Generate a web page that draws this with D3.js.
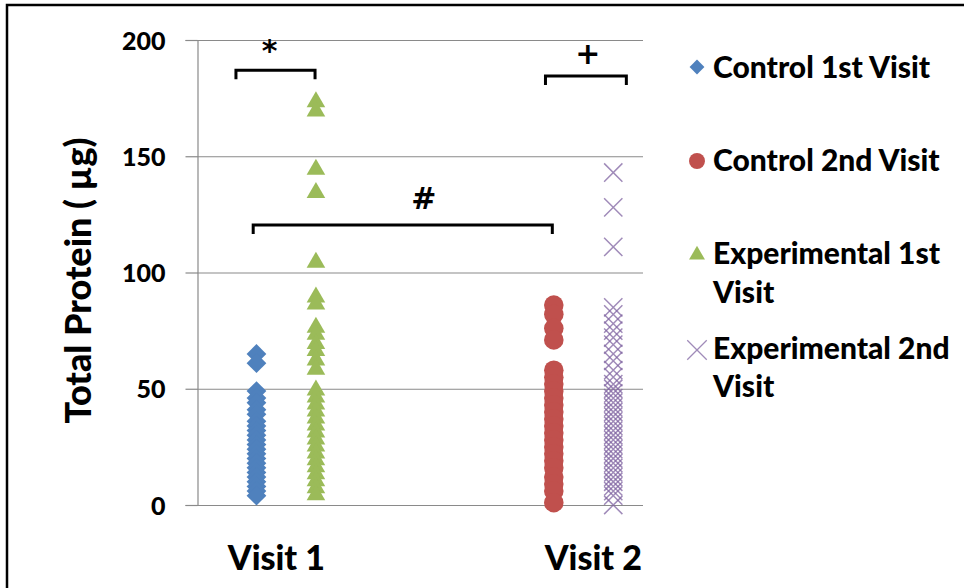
<!DOCTYPE html>
<html>
<head>
<meta charset="utf-8">
<script src="https://cdn.jsdelivr.net/npm/d3@7"></script>
<style>
  html, body { margin: 0; padding: 0; background: #fff; }
  svg { display: block; }
  text { font-family: Lato, "Open Sans", sans-serif; font-weight: 700; fill: #000; }
</style>
</head>
<body>
<svg id="chart" width="964" height="588"></svg>
<script>
// Series names, colours and x positions (visit 1 = 1, visit 2 = 2, experimental offset by 0.2)
const seriesNames = ["Control 1st Visit", "Control 2nd Visit", "Experimental 1st Visit", "Experimental 2nd Visit"];
const seriesLegendLines = [["Control 1st Visit"], ["Control 2nd Visit"], ["Experimental 1st", "Visit"], ["Experimental 2nd", "Visit"]];
const seriesX = [1, 2, 1.2, 2.2];
const seriesColors = ["#4F81BD", "#C0504D", "#9BBB59", "#8064A2"];

// Total protein (µg) per subject
const control1st = [65, 61, 49, 46, 44, 41, 39, 36, 34, 32, 30, 28, 26, 24, 22, 20, 18, 16, 14, 12, 10, 8, 6, 4];
const control2nd = [86, 82, 76, 71, 58, 55, 52, 49, 46, 43, 40, 37, 34, 31, 28, 25, 22, 19, 16, 12, 9, 6, 1];
const experimental1st = [174, 170, 145, 135, 105, 90, 87, 77, 74, 70, 67, 63, 59, 50, 47, 44, 41, 38, 35, 32, 29, 26, 23, 20, 17, 14, 11, 8, 5];
const experimental2nd = [143, 128, 111, 85, 82, 78, 75, 72, 69, 65, 62, 58, 55, 52, 50, 48, 46, 44, 42, 40, 38, 36, 34, 32, 30, 28, 26, 24, 22, 20, 18, 16, 14, 12, 10, 8, 6, 4, 0];
const seriesValues = [control1st, control2nd, experimental1st, experimental2nd];

// Axis ticks and category labels
const yTicks = [0, 50, 100, 150, 200];
const visitLabels = ["Visit 1", "Visit 2"];
const visitLabelX = [1.067, 2.133];

// Significance brackets: symbol, x range, bracket height (µg)
const sigSymbols = ["*", "+", "#"];
const sigX0 = [0.931, 1.972, 0.989];
const sigX1 = [1.197, 2.244, 1.995];
const sigY = [187, 184.5, 120.4];
const sigLabelShift = [-6, 2, 21];
const sigLabelRaise = [9, 12, 16];

const svg = d3.select("#chart");

// Outer frame
svg.append("path")
  .attr("d", "M7,590 V5 H966")
  .attr("fill", "none").attr("stroke", "#000").attr("stroke-width", 2.5);

const x = d3.scaleLinear().domain([0.8, 2.3]).range([197, 643]);
const y = d3.scaleLinear().domain([0, 200]).range([505, 40]);

// Gridlines
svg.append("g").selectAll("line").data(yTicks).join("line")
  .attr("x1", x(0.8)).attr("x2", x(2.3))
  .attr("y1", d => y(d) + 0.5).attr("y2", d => y(d) + 0.5)
  .attr("stroke", "#8a8a8a").attr("stroke-width", 1.2);

// Y axis
const yAxis = d3.axisLeft(y).tickValues(yTicks).tickSize(12).tickPadding(20).tickFormat(d3.format("d"));
const yg = svg.append("g").attr("transform", `translate(${x(0.8) + 0.5},0)`).call(yAxis);
yg.select(".domain").attr("stroke", "#8a8a8a").attr("stroke-width", 1.2);
yg.selectAll(".tick line").attr("stroke", "#8a8a8a").attr("stroke-width", 1.2);
yg.selectAll(".tick text")
  .style("font-family", "Lato, sans-serif").style("font-weight", "900")
  .attr("font-size", 25).attr("fill", "#000").attr("dy", "0.36em");

// Y axis title
svg.append("text")
  .attr("transform", `translate(91,${(y(0) + y(200)) / 2 + 8}) rotate(-90)`)
  .attr("text-anchor", "middle").attr("font-size", 36).style("font-weight", "900")
  .text("Total Protein ( µg)");

// Category labels
svg.append("g").selectAll("text").data(visitLabels).join("text")
  .attr("x", (d, i) => x(visitLabelX[i])).attr("y", 570)
  .attr("text-anchor", "middle").attr("font-size", 34).style("font-weight", "900")
  .text(d => d);

// Markers
const diamond = d3.symbol(d3.symbolSquare, 195);
const circle = d3.symbol(d3.symbolCircle, 300);
const triangle = d3.symbol(d3.symbolTriangle, 150);
const timesType = d3.symbolTimes || {
  draw(context, size) {
    const r = Math.sqrt(size + Math.min(size / 6, 1.7)) * 0.6189;
    context.moveTo(-r, -r); context.lineTo(r, r);
    context.moveTo(-r, r); context.lineTo(r, -r);
  }
};
const times = d3.symbol(timesType, 220);

function drawMarker(sel, i) {
  if (i === 0) {
    sel.append("path").attr("d", diamond()).attr("fill", seriesColors[0]).attr("transform", "rotate(45)");
  } else if (i === 1) {
    sel.append("path").attr("d", circle()).attr("fill", seriesColors[1]);
  } else if (i === 2) {
    sel.append("path").attr("d", triangle()).attr("fill", seriesColors[2]).attr("transform", "translate(0,1.5)");
  } else {
    sel.append("path").attr("d", times()).attr("fill", "none").attr("stroke", seriesColors[3]).attr("stroke-width", 1.5).attr("stroke-opacity", 0.75);
  }
}

seriesValues.forEach((vals, i) => {
  const g = svg.append("g").attr("class", "series");
  vals.forEach(v => {
    const m = g.append("g").attr("transform", `translate(${x(seriesX[i])},${y(v)})`);
    drawMarker(m, i);
  });
});

// Significance brackets
const brackets = svg.append("g");
sigSymbols.forEach((s, i) => {
  const x0 = x(sigX0[i]), x1 = x(sigX1[i]), yy = y(sigY[i]);
  brackets.append("path")
    .attr("d", `M${x0},${yy + 9} V${yy} H${x1} V${yy + 9}`)
    .attr("fill", "none").attr("stroke", "#000").attr("stroke-width", 3);
  brackets.append("text")
    .attr("x", (x0 + x1) / 2 + sigLabelShift[i])
    .attr("y", yy - sigLabelRaise[i])
    .attr("text-anchor", "middle").attr("font-size", 30)
    .style("font-family", "'DejaVu Sans', sans-serif").style("font-weight", "700")
    .text(s);
});

// Legend
const legendY = [[78], [171], [264, 303], [359, 397]];
const legendMarkerY = [67, 161, 254, 350];
const legend = svg.append("g");
seriesNames.forEach((name, i) => {
  const m = legend.append("g").attr("transform", `translate(697,${legendMarkerY[i]})`);
  if (i === 0) {
    m.append("path").attr("d", d3.symbol(d3.symbolSquare, 110)()).attr("fill", seriesColors[0]).attr("transform", "rotate(45)");
  } else if (i === 1) {
    m.append("path").attr("d", d3.symbol(d3.symbolCircle, 200)()).attr("fill", seriesColors[1]);
  } else if (i === 2) {
    m.append("path").attr("d", d3.symbol(d3.symbolTriangle, 110)()).attr("fill", seriesColors[2]).attr("transform", "translate(0,1)");
  } else {
    m.append("path").attr("d", d3.symbol(timesType, 250)()).attr("fill", "none").attr("stroke", seriesColors[3]).attr("stroke-width", 1.3).attr("stroke-opacity", 0.75);
  }
  seriesLegendLines[i].forEach((line, j) => {
    legend.append("text").attr("x", 713).attr("y", legendY[i][j]).attr("font-size", 30).style("font-weight", "900").text(line);
  });
});
</script>
</body>
</html>
